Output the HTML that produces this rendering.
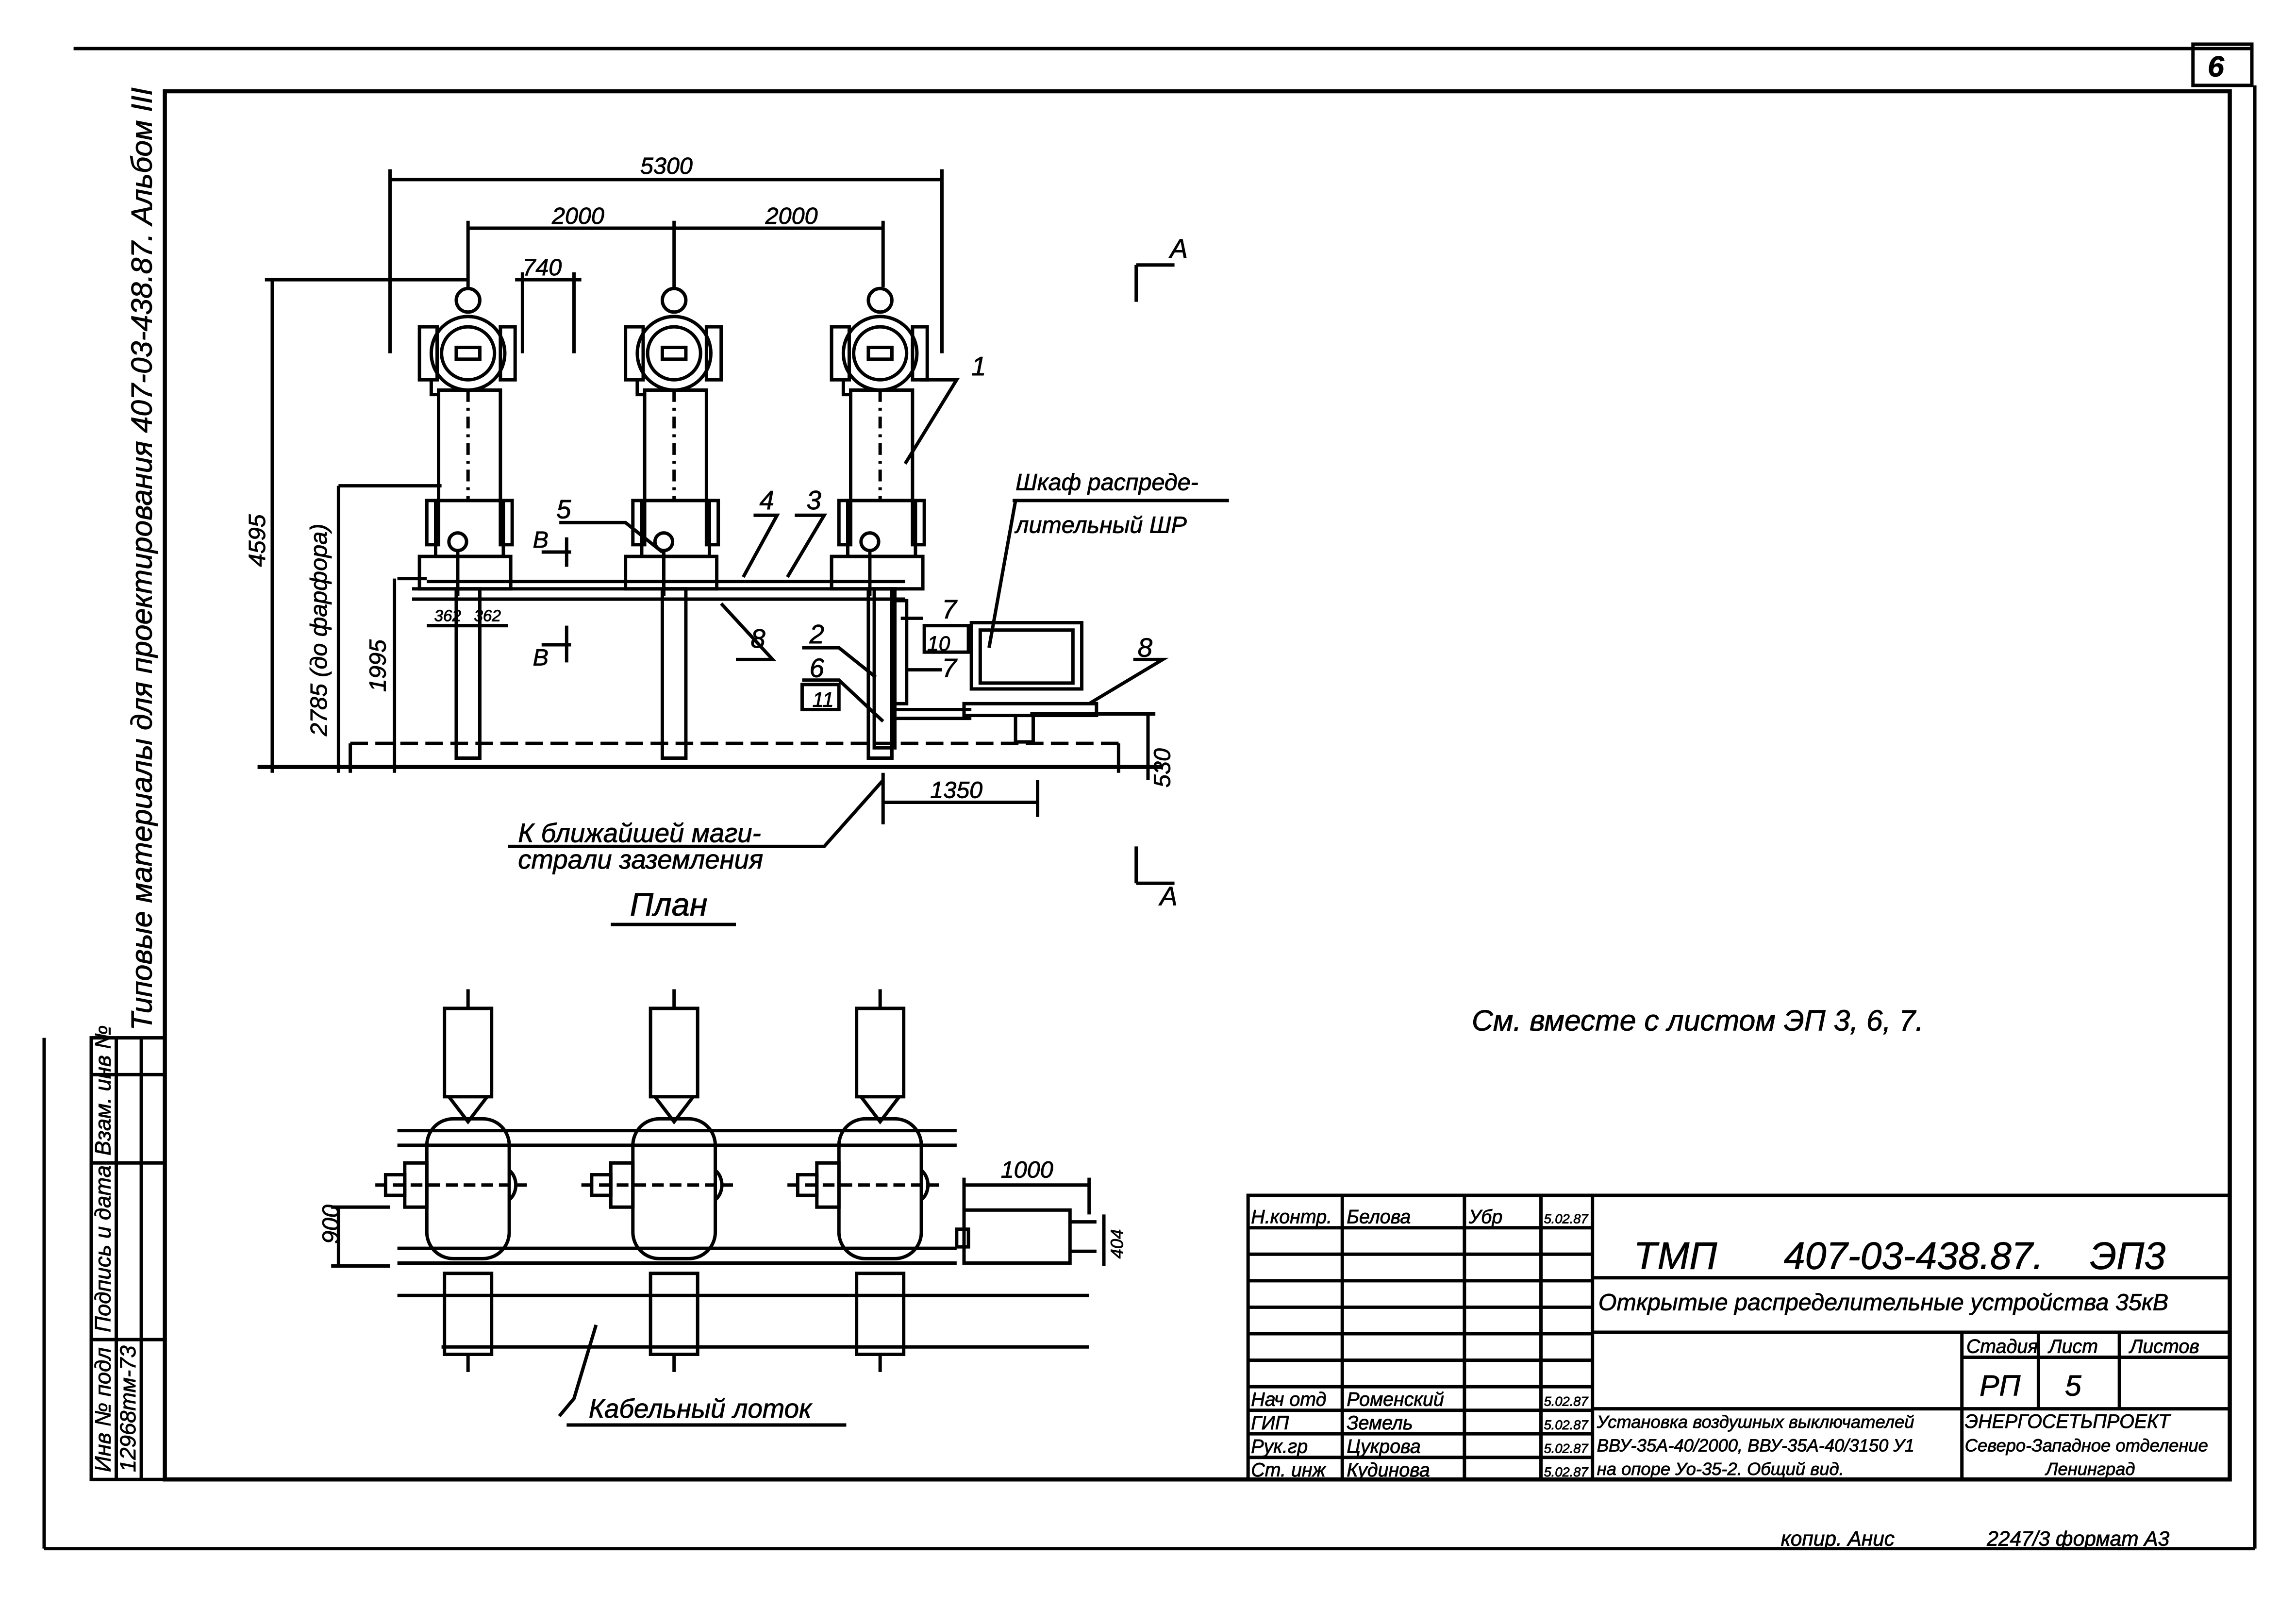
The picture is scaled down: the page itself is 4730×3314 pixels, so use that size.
<!DOCTYPE html>
<html><head><meta charset="utf-8"><style>
html,body{margin:0;padding:0;background:#fff;}
svg{display:block;}
text{font-family:"Liberation Sans","DejaVu Sans",sans-serif;font-style:italic;fill:#000;stroke:#000;stroke-width:0.3;}
</style></head><body>
<svg width="4730" height="3314" viewBox="0 0 1560 1093" preserveAspectRatio="none" xmlns="http://www.w3.org/2000/svg">
<rect width="1560" height="1093" fill="#fff"/>
<g fill="none" stroke="#000" stroke-width="2.3">
<line x1="50" y1="33" x2="1530" y2="33"/>
<rect x="1490" y="30" width="40" height="28"/>
<line x1="1532" y1="58" x2="1532" y2="1052"/>
<line x1="30" y1="1052" x2="1532" y2="1052"/>
<line x1="30" y1="705" x2="30" y2="1052"/>
<rect x="112" y="62" width="1403" height="943" stroke-width="2.8"/>
<rect x="62" y="705" width="50" height="300"/>
<line x1="79" y1="705" x2="79" y2="1005"/>
<line x1="96" y1="705" x2="96" y2="1005"/>
<line x1="62" y1="730" x2="112" y2="730"/>
<line x1="62" y1="790" x2="112" y2="790"/>
<line x1="62" y1="910" x2="112" y2="910"/>
</g>
<g font-size="15">
<text transform="translate(75,1000) rotate(-90)">Инв № подл</text>
<text transform="translate(92,1000) rotate(-90)">12968тм-73</text>
<text transform="translate(75,905) rotate(-90)">Подпись и дата</text>
<text transform="translate(75,785) rotate(-90)">Взам. инв №</text>
<text transform="translate(103,700) rotate(-90)" font-size="20">Типовые материалы для проектирования 407-03-438.87. Альбом III</text>
</g>
<text x="1500" y="52" font-size="20" font-weight="bold">6</text>

<g fill="none" stroke="#000" stroke-width="2.3">
<rect x="848" y="812" width="667" height="193"/>
<line x1="912" y1="812" x2="912" y2="1005"/>
<line x1="995" y1="812" x2="995" y2="1005"/>
<line x1="1047" y1="812" x2="1047" y2="1005"/>
<line x1="1082" y1="812" x2="1082" y2="1005"/>
<line x1="848" y1="834" x2="1082" y2="834"/>
<line x1="848" y1="852" x2="1082" y2="852"/>
<line x1="848" y1="870" x2="1082" y2="870"/>
<line x1="848" y1="888" x2="1082" y2="888"/>
<line x1="848" y1="906" x2="1082" y2="906"/>
<line x1="848" y1="924" x2="1082" y2="924"/>
<line x1="848" y1="942" x2="1082" y2="942"/>
<line x1="848" y1="958" x2="1082" y2="958"/>
<line x1="848" y1="974" x2="1082" y2="974"/>
<line x1="848" y1="990" x2="1082" y2="990"/>
<line x1="1082" y1="868" x2="1515" y2="868"/>
<line x1="1082" y1="905" x2="1515" y2="905"/>
<line x1="1082" y1="957" x2="1515" y2="957"/>
<line x1="1333" y1="905" x2="1333" y2="1005"/>
<line x1="1385" y1="905" x2="1385" y2="957"/>
<line x1="1440" y1="905" x2="1440" y2="957"/>
<line x1="1333" y1="922" x2="1515" y2="922"/>
</g>
<g font-size="13">
<text x="850" y="831">Н.контр.</text><text x="915" y="831">Белова</text><text x="998" y="831">Убр</text><text x="1049" y="831" font-size="9">5.02.87</text>
<text x="850" y="955">Нач отд</text><text x="915" y="955">Роменский</text><text x="1049" y="955" font-size="9">5.02.87</text>
<text x="850" y="971">ГИП</text><text x="915" y="971">Земель</text><text x="1049" y="971" font-size="9">5.02.87</text>
<text x="850" y="987">Рук.гр</text><text x="915" y="987">Цукрова</text><text x="1049" y="987" font-size="9">5.02.87</text>
<text x="850" y="1003">Ст. инж</text><text x="915" y="1003">Кудинова</text><text x="1049" y="1003" font-size="9">5.02.87</text>
<text x="1085" y="970" font-size="12">Установка воздушных выключателей</text>
<text x="1085" y="986" font-size="12">ВВУ-35А-40/2000, ВВУ-35А-40/3150 У1</text>
<text x="1085" y="1002" font-size="12">на опоре Уо-35-2.   Общий вид.</text>
<text x="1335" y="970" font-size="13">ЭНЕРГОСЕТЬПРОЕКТ</text>
<text x="1335" y="986" font-size="12">Северо-Западное отделение</text>
<text x="1390" y="1002" font-size="12">Ленинград</text>
<text x="1336" y="919">Стадия</text><text x="1392" y="919">Лист</text><text x="1447" y="919">Листов</text>
<text x="1345" y="948" font-size="20">РП</text><text x="1403" y="948" font-size="20">5</text>
</g>
<text x="1110" y="862" font-size="26">ТМП</text>
<text x="1212" y="862" font-size="26">407-03-438.87.</text>
<text x="1420" y="862" font-size="26">ЭП3</text>
<text x="1086" y="890" font-size="16">Открытые распределительные устройства 35кВ</text>
<text x="1210" y="1050" font-size="14">копир. Анис</text>
<text x="1350" y="1050" font-size="14">2247/3   формат А3</text>
<text x="1000" y="700" font-size="20">См. вместе с листом ЭП 3, 6, 7.</text>

<g fill="none" stroke="#000" stroke-width="2.3">
<line x1="265" y1="122" x2="640" y2="122"/>
<line x1="265" y1="115" x2="265" y2="240"/><line x1="640" y1="115" x2="640" y2="240"/>
<line x1="318" y1="155" x2="600" y2="155"/>
<line x1="318" y1="150" x2="318" y2="195"/><line x1="458" y1="150" x2="458" y2="195"/><line x1="600" y1="150" x2="600" y2="195"/>
<line x1="350" y1="190" x2="395" y2="190"/>
<line x1="355" y1="185" x2="355" y2="240"/><line x1="390" y1="185" x2="390" y2="240"/>
<line x1="180" y1="190" x2="318" y2="190"/>
<line x1="185" y1="190" x2="185" y2="525"/>
<line x1="230" y1="330" x2="300" y2="330"/>
<line x1="230" y1="330" x2="230" y2="525"/>
<line x1="270" y1="393" x2="290" y2="393"/>
<line x1="268" y1="393" x2="268" y2="525"/>
<line x1="175" y1="521" x2="790" y2="521" stroke-width="2.8"/>
<line x1="238" y1="505" x2="760" y2="505" stroke-dasharray="12,5"/>
<line x1="238" y1="505" x2="238" y2="525"/>
<line x1="760" y1="505" x2="760" y2="525"/>
<line x1="290" y1="425" x2="345" y2="425"/>
<line x1="600" y1="545" x2="705" y2="545"/>
<line x1="600" y1="525" x2="600" y2="560"/><line x1="705" y1="530" x2="705" y2="555"/>
<line x1="780" y1="485" x2="780" y2="530"/>
<line x1="700" y1="485" x2="785" y2="485"/>
<g id="b1">
<circle cx="318" cy="204" r="8"/>
<circle cx="318" cy="240" r="25"/>
<circle cx="318" cy="240" r="18"/>
<rect x="310" y="236" width="16" height="8"/>
<rect x="285" y="222" width="12" height="36"/>
<rect x="340" y="222" width="10" height="36"/>
<path d="M293 258 L293 268 L298 268"/>
<rect x="298" y="265" width="42" height="75"/>
<line x1="318" y1="265" x2="318" y2="340" stroke-dasharray="8,4,2,4"/>
<rect x="296" y="340" width="46" height="38"/>
<rect x="290" y="340" width="8" height="30"/>
<rect x="340" y="340" width="8" height="30"/>
<circle cx="311" cy="368" r="6"/>
<rect x="285" y="378" width="62" height="22"/>
<line x1="311" y1="374" x2="311" y2="405"/>
<rect x="310" y="400" width="16" height="115"/>
</g>
<use href="#b1" x="140"/>
<use href="#b1" x="280"/>
<line x1="280" y1="400" x2="615" y2="400"/>
<line x1="280" y1="407" x2="615" y2="407"/>
<line x1="290" y1="395" x2="615" y2="395"/>
<rect x="594" y="400" width="14" height="108"/>
<rect x="608" y="408" width="8" height="70"/>
<line x1="608" y1="482" x2="660" y2="482"/>
<line x1="608" y1="488" x2="660" y2="488"/>
<rect x="660" y="423" width="75" height="45"/>
<rect x="666" y="428" width="63" height="36"/>
<rect x="655" y="478" width="90" height="8"/>
<rect x="690" y="486" width="12" height="18"/>
<path d="M380 355 L425 355 L450 375"/>
<path d="M512 350 L528 350 L505 392"/>
<path d="M540 350 L560 350 L535 392"/>
<path d="M500 448 L525 448 L490 410"/>
<path d="M545 440 L570 440 L595 460"/>
<path d="M545 462 L570 462 L600 490"/>
<rect x="545" y="465" width="25" height="17"/>
<path d="M612 420 L627 420"/><rect x="628" y="425" width="30" height="18"/>
<path d="M615 455 L640 455"/>
<path d="M770 448 L790 448 L740 478"/>
<path d="M625 258 L650 258 L615 315"/>
<path d="M688 340 L835 340"/>
<path d="M690 340 L672 440"/>
<path d="M345 575 L560 575 L600 530"/>
<line x1="415" y1="628" x2="500" y2="628"/>
<path d="M772 205 L772 180 M772 180 L798 180"/>
<path d="M772 600 L772 575 M772 600 L798 600"/>
<path d="M368 375 L388 375 M385 365 L385 385"/>
<path d="M368 438 L388 438 M385 425 L385 450"/>
</g>
<g font-size="16">
<text x="435" y="118">5300</text>
<text x="375" y="152">2000</text>
<text x="520" y="152">2000</text>
<text x="355" y="187">740</text>
<text transform="translate(180,385) rotate(-90)">4595</text>
<text transform="translate(222,500) rotate(-90)">2785 (до фарфора)</text>
<text transform="translate(262,470) rotate(-90)">1995</text>
<text x="295" y="422" font-size="11">362</text><text x="322" y="422" font-size="11">362</text>
<text transform="translate(795,535) rotate(-90)">530</text>
<text x="632" y="542">1350</text>
<text x="795" y="175" font-size="18">А</text>
<text x="788" y="615" font-size="18">А</text>
<text x="362" y="372">В</text><text x="362" y="452">В</text>
<text x="378" y="352" font-size="18">5</text>
<text x="516" y="346" font-size="18">4</text>
<text x="548" y="346" font-size="18">3</text>
<text x="660" y="255" font-size="18">1</text>
<text x="510" y="440" font-size="18">8</text>
<text x="550" y="437" font-size="18">2</text>
<text x="550" y="460" font-size="18">6</text>
<text x="552" y="480" font-size="14">11</text>
<text x="640" y="420" font-size="18">7</text>
<text x="630" y="442" font-size="14">10</text>
<text x="640" y="460" font-size="18">7</text>
<text x="773" y="446" font-size="18">8</text>
<text x="690" y="333">Шкаф распреде-</text>
<text x="690" y="362">лительный ШР</text>
<text x="352" y="572" font-size="18">К ближайшей маги-</text>
<text x="352" y="590" font-size="18">страли заземления</text>
<text x="428" y="622" font-size="22">План</text>
</g>

<g fill="none" stroke="#000" stroke-width="2.3">
<line x1="270" y1="768" x2="650" y2="768"/>
<line x1="270" y1="778" x2="650" y2="778"/>
<line x1="270" y1="848" x2="650" y2="848"/>
<line x1="270" y1="858" x2="650" y2="858"/>
<line x1="270" y1="880" x2="740" y2="880"/>
<line x1="300" y1="915" x2="740" y2="915"/>
<line x1="230" y1="820" x2="230" y2="860"/>
<line x1="225" y1="820" x2="265" y2="820"/><line x1="225" y1="860" x2="265" y2="860"/>
<line x1="655" y1="805" x2="740" y2="805"/>
<line x1="655" y1="800" x2="655" y2="825"/><line x1="740" y1="800" x2="740" y2="825"/>
<line x1="750" y1="825" x2="750" y2="860"/>
<g id="c1">
<rect x="302" y="685" width="32" height="60"/>
<line x1="318" y1="672" x2="318" y2="685"/>
<path d="M305 745 L318 762 L331 745"/>
<rect x="290" y="760" width="56" height="95" rx="18"/>
<path d="M346 795 A10 12 0 0 1 346 815"/>
<rect x="275" y="790" width="15" height="30"/>
<rect x="262" y="798" width="13" height="14"/>
<rect x="302" y="865" width="32" height="55"/>
<line x1="318" y1="920" x2="318" y2="932"/>
<line x1="255" y1="805" x2="358" y2="805" stroke-dasharray="8,4"/>
</g>
<use href="#c1" x="140"/>
<use href="#c1" x="280"/>
<rect x="655" y="822" width="72" height="36"/>
<rect x="650" y="835" width="8" height="12"/>
<line x1="727" y1="830" x2="745" y2="830"/>
<line x1="727" y1="850" x2="745" y2="850"/>
<path d="M380 962 L390 950 L405 900"/>
<line x1="385" y1="968" x2="575" y2="968"/>
</g>
<g font-size="16">
<text x="680" y="800">1000</text>
<text transform="translate(230,845) rotate(-90)">900</text>
<text transform="translate(763,855) rotate(-90)" font-size="12">404</text>
<text x="400" y="963" font-size="18">Кабельный   лоток</text>
</g>
</svg>
</body></html>
